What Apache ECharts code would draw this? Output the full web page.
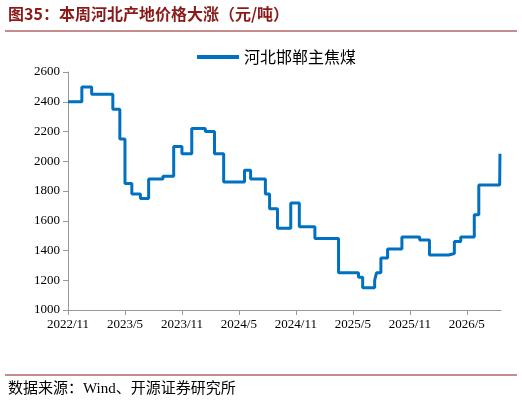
<!DOCTYPE html><html><head><meta charset="utf-8"><script src="https://cdn.jsdelivr.net/npm/echarts@6/dist/echarts.min.js"></script>
<style>body{margin:0}#c{width:522px;height:407px}</style></head><body><div id="c"></div><script>
const dates=['2022-11-01','2022-12-15','2023-01-16','2023-03-23','2023-04-15','2023-05-01','2023-05-23','2023-06-20','2023-07-16','2023-09-01','2023-10-05','2023-11-01','2023-12-02','2024-01-15','2024-02-14','2024-03-13','2024-05-19','2024-06-08','2024-07-25','2024-08-08','2024-09-03','2024-10-15','2024-11-12','2025-01-01','2025-03-16','2025-05-19','2025-06-02','2025-07-10','2025-07-16','2025-07-30','2025-08-21','2025-10-06','2025-12-02','2026-01-03','2026-03-04','2026-03-22','2026-04-12','2026-05-25','2026-06-09','2026-08-15','2026-08-16'];
const prices=[2400,2500,2450,2350,2150,1850,1780,1750,1880,1900,2100,2050,2220,2200,2050,1860,1940,1880,1780,1680,1550,1720,1560,1480,1250,1220,1150,1200,1250,1350,1410,1490,1470,1370,1380,1460,1490,1640,1840,1840,2050];
const yTicks=[1000,1200,1400,1600,1800,2000,2200,2400,2600];
function mo(s){const [y,m,d]=s.split('-').map(Number);return (y-2022)*12+(m-11)+(d-1)/30.5;}
const data=dates.map((d,i)=>[mo(d),prices[i]]);
const ch=echarts.init(document.getElementById('c'));
ch.setOption({animation:false,
graphic:[{type:'text',left:8,top:6,style:{text:'图35：本周河北产地价格大涨（元/吨）',font:'bold 16px "Noto Sans CJK SC"',fill:'#8B1A1A'}},
{type:'line',shape:{x1:5,y1:31,x2:517,y2:31},style:{stroke:'#8B1A1A',lineWidth:1}},
{type:'line',shape:{x1:5,y1:375,x2:517,y2:375},style:{stroke:'#8B1A1A',lineWidth:1}},
{type:'text',left:8,top:382,style:{text:'数据来源：Wind、开源证券研究所',font:'15px "Liberation Serif","Noto Sans CJK SC"',fill:'#000'}}],
legend:{top:44,left:192,itemWidth:42,itemHeight:4,icon:'rect',textStyle:{fontSize:16,color:'#000',fontFamily:'Noto Sans CJK SC'},data:['河北邯郸主焦煤']},
grid:{left:68,right:21,top:72,bottom:97},
xAxis:{type:'value',min:0,max:45.6,interval:6,axisLine:{lineStyle:{color:'#999'}},axisTick:{lineStyle:{color:'#999'}},splitLine:{show:false},
axisLabel:{color:'#000',fontSize:13,fontFamily:'Liberation Serif',showMaxLabel:false,formatter:v=>{const t=2022*12+10+Math.round(v);return Math.floor(t/12)+'/'+(t%12+1);}}},
yAxis:{type:'value',min:yTicks[0],max:yTicks[yTicks.length-1],interval:200,axisLine:{show:true,lineStyle:{color:'#999'}},axisTick:{show:true,lineStyle:{color:'#999'}},splitLine:{show:false},axisLabel:{color:'#000',fontSize:13,fontFamily:'Liberation Serif',formatter:v=>String(v)}},
series:[{name:'河北邯郸主焦煤',type:'line',step:'end',data:data,symbol:'none',lineStyle:{color:'#0070C0',width:3},itemStyle:{color:'#0070C0'}}]});
</script></body></html>
